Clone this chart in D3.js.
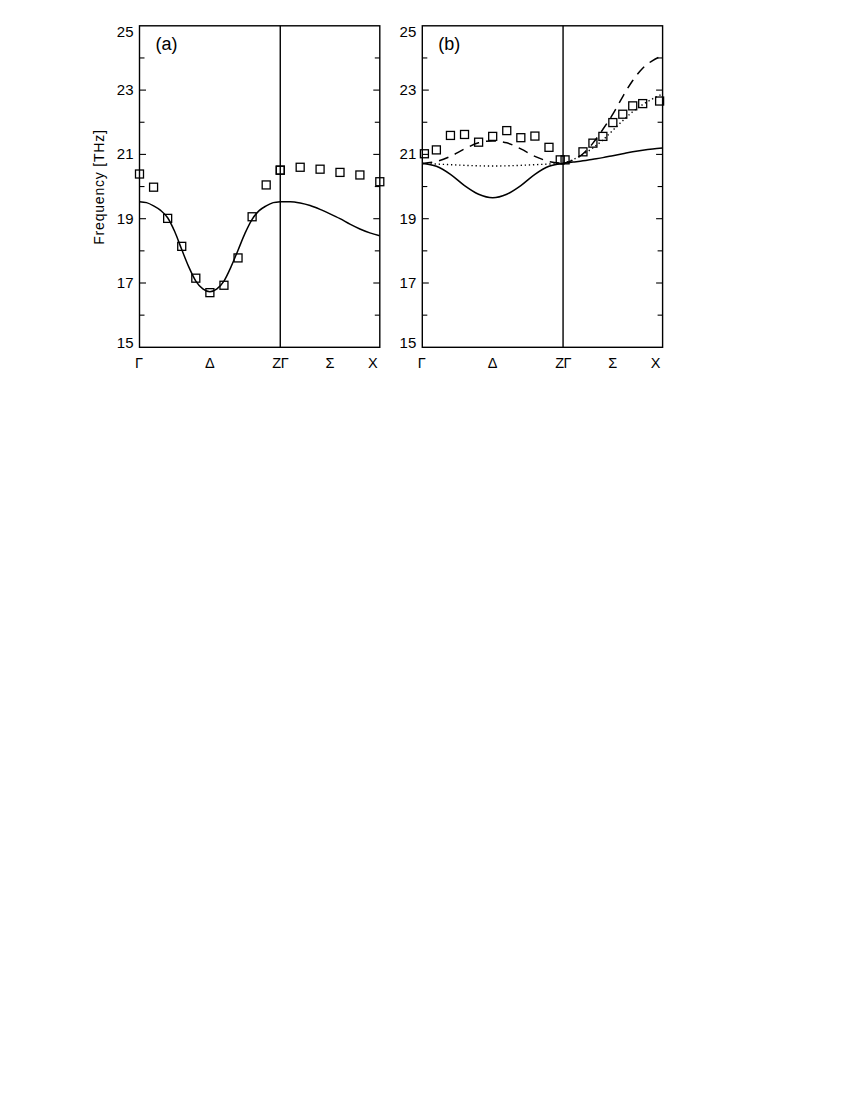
<!DOCTYPE html>
<html>
<head>
<meta charset="utf-8">
<script src="https://cdn.jsdelivr.net/npm/d3@7/dist/d3.min.js"></script>
<style>
  html, body { margin: 0; padding: 0; background: #fff; }
  text { font-family: "Liberation Sans", Arial, Helvetica, sans-serif; fill: #000; }
</style>
</head>
<body>
<svg id="chart" width="850" height="1100"></svg>
<script>
// ---------------- data ----------------
const yTickValues = [15, 17, 19, 21, 23, 25];
const yMinorValues = [16, 18, 20, 22, 24];
const deltaLabels = ["Γ", "Δ", "ZΓ"];
const sigmaLabels = ["Σ", "X"];
const panelLabels = ["(a)", "(b)"];
const yAxisTitle = "Frequency [THz]";

// Panel (a): Γ–Δ–Z segment (position 0..1), Γ–Σ–X segment (position 0..1)
const aDeltaSqPos = [0, 0.1, 0.2, 0.3, 0.4, 0.5, 0.6, 0.7, 0.8, 0.9, 1.0];
const aDeltaSq    = [20.39, 19.98, 19.01, 18.14, 17.15, 16.70, 16.93, 17.78, 19.06, 20.05, 20.51];
const aSigmaSqPos = [0, 0.2, 0.4, 0.6, 0.8, 1.0];
const aSigmaSq    = [20.51, 20.60, 20.54, 20.44, 20.36, 20.15];

const aDeltaLinePos = [0, 0.05, 0.1, 0.15, 0.2, 0.25, 0.3, 0.35, 0.4, 0.45, 0.5, 0.55, 0.6, 0.65, 0.7, 0.75, 0.8, 0.85, 0.9, 0.95, 1.0];
const aDeltaLine    = [19.53, 19.50, 19.40, 19.26, 19.03, 18.60, 18.04, 17.50, 17.06, 16.82, 16.73, 16.82, 17.06, 17.50, 18.02, 18.55, 18.98, 19.25, 19.40, 19.50, 19.53];
const aSigmaLinePos = [0, 0.1, 0.2, 0.3, 0.4, 0.5, 0.6, 0.7, 0.8, 0.9, 1.0];
const aSigmaLine    = [19.53, 19.53, 19.49, 19.41, 19.29, 19.15, 19.00, 18.83, 18.68, 18.56, 18.47];

// Panel (b)
const bDeltaSqPos = [0.015, 0.1, 0.2, 0.3, 0.4, 0.5, 0.6, 0.7, 0.8, 0.9, 0.98];
const bDeltaSq    = [21.02, 21.14, 21.59, 21.62, 21.38, 21.56, 21.74, 21.52, 21.57, 21.22, 20.83];
const bSigmaSqPos = [0.02, 0.2, 0.3, 0.4, 0.5, 0.6, 0.7, 0.8, 0.97];
const bSigmaSq    = [20.83, 21.08, 21.35, 21.56, 21.99, 22.25, 22.51, 22.58, 22.66];

const bLinePos = [0, 0.1, 0.2, 0.3, 0.4, 0.5, 0.6, 0.7, 0.8, 0.9, 1.0];
const bDeltaSolid  = [20.72, 20.63, 20.38, 20.03, 19.76, 19.65, 19.76, 20.03, 20.38, 20.63, 20.72];
const bDeltaDash   = [20.72, 20.78, 20.94, 21.17, 21.36, 21.42, 21.36, 21.17, 20.94, 20.78, 20.72];
const bDeltaDot    = [20.72, 20.70, 20.68, 20.66, 20.645, 20.64, 20.645, 20.66, 20.68, 20.70, 20.72];
const bSigmaSolid  = [20.72, 20.76, 20.80, 20.85, 20.90, 20.96, 21.02, 21.08, 21.13, 21.17, 21.20];
const bSigmaDash   = [20.72, 20.82, 21.02, 21.35, 21.78, 22.25, 22.80, 23.30, 23.68, 23.92, 24.07];
const bSigmaDot    = [20.72, 20.84, 21.00, 21.20, 21.45, 21.75, 22.05, 22.33, 22.55, 22.73, 22.88];

// ---------------- layout ----------------
const svg = d3.select("#chart");
const plotTop = 25.8, plotBottom = 347.3;
const panelLefts = [139.5, 422.3];
const panelWidth = 240.3;
const segRatio = 1 / (1 + Math.SQRT1_2); // Γ–Z fraction of panel width

const y = d3.scaleLinear().domain([15, 25]).range([plotBottom, plotTop]);

function zip(pos, vals) { return pos.map((p, i) => [p, vals[i]]); }

const panels = [
  {
    label: panelLabels[0],
    squaresD: zip(aDeltaSqPos, aDeltaSq),
    squaresS: zip(aSigmaSqPos, aSigmaSq),
    linesD: [{ d: zip(aDeltaLinePos, aDeltaLine), style: "solid" }],
    linesS: [{ d: zip(aSigmaLinePos, aSigmaLine), style: "solid" }]
  },
  {
    label: panelLabels[1],
    squaresD: zip(bDeltaSqPos, bDeltaSq),
    squaresS: zip(bSigmaSqPos, bSigmaSq),
    linesD: [
      { d: zip(bLinePos, bDeltaSolid), style: "solid" },
      { d: zip(bLinePos, bDeltaDash), style: "dash" },
      { d: zip(bLinePos, bDeltaDot), style: "dot" }
    ],
    linesS: [
      { d: zip(bLinePos, bSigmaSolid), style: "solid" },
      { d: zip(bLinePos, bSigmaDash), style: "dash" },
      { d: zip(bLinePos, bSigmaDot), style: "dot" }
    ]
  }
];

const dashFor = { solid: null, dash: "10,7", dot: "1.3,2.8" };

panels.forEach((p, pi) => {
  const left = panelLefts[pi];
  const right = left + panelWidth;
  const zg = left + panelWidth * segRatio;
  const xD = d3.scaleLinear().domain([0, 1]).range([left, zg]);
  const xS = d3.scaleLinear().domain([0, 1]).range([zg, right]);
  const g = svg.append("g");

  const clipId = "clip" + pi;
  svg.append("clipPath").attr("id", clipId)
    .append("rect").attr("x", left).attr("y", plotTop).attr("width", panelWidth).attr("height", plotBottom - plotTop);

  // curves
  [[p.linesD, xD], [p.linesS, xS]].forEach(([lines, xs]) => {
    lines.forEach(l => {
      const gen = d3.line().x(d => xs(d[0])).y(d => y(d[1])).curve(d3.curveMonotoneX);
      g.append("path").attr("d", gen(l.d))
        .attr("fill", "none").attr("stroke", "#000")
        .attr("stroke-width", l.style === "dot" ? 1.4 : 1.5)
        .attr("stroke-dasharray", dashFor[l.style])
        .attr("clip-path", `url(#${clipId})`);
    });
  });

  // squares
  const sq = 8;
  [[p.squaresD, xD], [p.squaresS, xS]].forEach(([pts, xs]) => {
    g.selectAll(null).data(pts).enter().append("rect")
      .attr("x", d => xs(d[0]) - sq / 2)
      .attr("y", d => y(d[1]) - sq / 2)
      .attr("width", sq).attr("height", sq)
      .attr("fill", "none").attr("stroke", "#000").attr("stroke-width", 1.3);
  });

  // frame
  g.append("rect").attr("x", left).attr("y", plotTop)
    .attr("width", panelWidth).attr("height", plotBottom - plotTop)
    .attr("fill", "none").attr("stroke", "#000").attr("stroke-width", 1.4);
  g.append("line").attr("x1", zg).attr("x2", zg).attr("y1", plotTop).attr("y2", plotBottom)
    .attr("stroke", "#000").attr("stroke-width", 1.4);

  // inward ticks on left and right
  const majorInner = yTickValues.filter(v => v > 15 && v < 25);
  majorInner.forEach(v => {
    g.append("line").attr("x1", left).attr("x2", left + 6.5).attr("y1", y(v)).attr("y2", y(v)).attr("stroke", "#000").attr("stroke-width", 1.1);
    g.append("line").attr("x1", right).attr("x2", right - 6.5).attr("y1", y(v)).attr("y2", y(v)).attr("stroke", "#000").attr("stroke-width", 1.1);
  });
  yMinorValues.forEach(v => {
    g.append("line").attr("x1", left).attr("x2", left + 5).attr("y1", y(v)).attr("y2", y(v)).attr("stroke", "#000").attr("stroke-width", 1.1);
    g.append("line").attr("x1", right).attr("x2", right - 5).attr("y1", y(v)).attr("y2", y(v)).attr("stroke", "#000").attr("stroke-width", 1.1);
  });

  // y tick labels
  yTickValues.forEach(v => {
    const off = v === 25 ? 11.5 : (v === 15 ? 1 : 5);
    g.append("text").attr("x", left - 6).attr("y", y(v) + off)
      .attr("text-anchor", "end").attr("font-size", 15).text(v);
  });

  // x labels
  const by = 368;
  const xl = [
    [xD(0) - 0.5, deltaLabels[0]],
    [xD(0.5), deltaLabels[1]],
    [zg, deltaLabels[2]],
    [xS(0.5), sigmaLabels[0]],
    [right - 7, sigmaLabels[1]]
  ];
  xl.forEach(([xx, t]) => {
    g.append("text").attr("x", xx).attr("y", by).attr("text-anchor", "middle")
      .attr("font-size", 14.5).attr("letter-spacing", t.length > 1 ? -0.5 : 0).text(t);
  });

  // panel label
  g.append("text").attr("x", left + 16).attr("y", 50).attr("font-size", 18).text(p.label);
});

// y axis title
svg.append("text")
  .attr("transform", "translate(104,187) rotate(-90)")
  .attr("text-anchor", "middle").attr("font-size", 14).attr("letter-spacing", 0.8)
  .text(yAxisTitle);
</script>
</body>
</html>
